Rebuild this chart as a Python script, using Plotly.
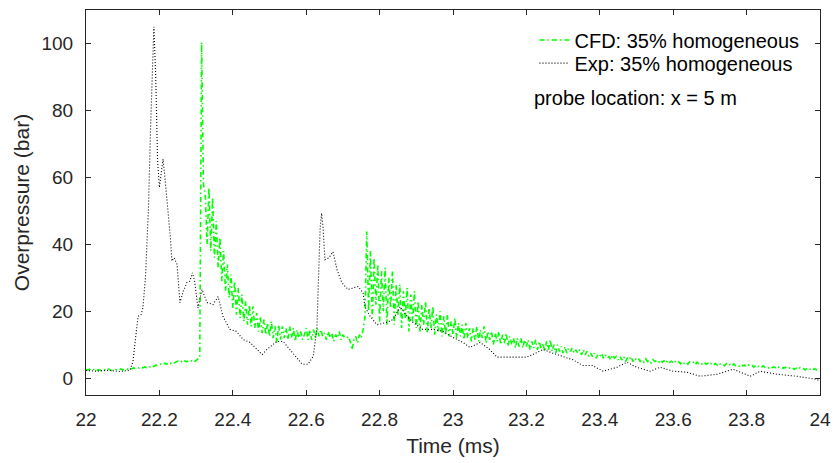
import plotly.graph_objects as go

# ---------------- data ----------------
# CFD: uniformly sampled, start 22.0 ms, step 0.005 ms
cfd_t0 = 22.0
cfd_dt = 0.005
cfd_p = [
    2.6, 2.4, 2.7, 2.3, 2.5, 2.8, 2.4, 2.6, 2.3, 2.7, 2.5, 2.4, 2.8, 2.6, 2.3, 2.5, 2.7, 2.4, 2.6, 2.8, 2.5,
    2.7, 2.9, 2.6, 3.0, 2.8, 3.1, 2.9, 3.2, 3.0, 3.3, 3.1, 3.4, 3.2, 3.6, 3.4, 3.8, 3.5, 3.9, 3.7, 4.1,
    4.3, 4.0, 4.5, 4.2, 4.7, 4.4, 4.9, 4.6, 4.8, 5.1, 4.7, 5.0, 4.6, 5.2, 4.9, 5.3, 5.0, 5.4, 4.9, 5.3, 5.6, 6.2,
    100.4, 58,
    55, 40, 57, 38, 54, 36, 47, 33, 42, 29, 38, 26, 34, 24, 31, 21, 29, 19, 27, 18,
    25, 17, 23, 16, 22, 15.5, 21.5, 15, 19.5, 14, 18.5, 13.5, 17.5, 13, 16.5, 12.5,
    17, 12, 15.5, 10.5, 16, 11.5, 15.5, 12, 15, 11.5, 15.5, 12, 15, 11, 14.5, 12,
    14, 11.5, 13, 15, 11.5, 14.5, 11.5, 14.5, 12, 15, 12.5, 14.5, 12.5, 13.5, 11.5, 14,
    12, 13.5, 11, 13, 12, 14, 11.5, 13, 12, 12, 12.5, 11, 8.5, 11.5, 12.5, 10.5, 13, 12,
    14.5, 18, 43.8, 20, 38, 18, 36, 22, 34, 17, 32, 20, 33, 16, 30, 21, 32, 16, 28, 19,
    28, 15, 26, 18, 27, 14, 25, 17, 26, 15, 23, 14, 22, 16, 23, 13.5, 21, 15, 21.5, 13,
    19, 14, 20, 12.5, 18.5, 13, 19, 12.5, 17, 13,
    18, 12, 16.5, 12.5, 16, 11.5, 16.5, 12, 15, 11, 15, 11.5, 15.5, 11, 14.5, 12, 15.5, 10.5, 14, 11.5,
    14, 10, 13.5, 11, 14, 10, 13, 10.5, 13.5, 9.5, 12.5, 10, 12, 9, 12, 9.5, 12, 9, 11.5, 9.5,
    11.5, 8.5, 11, 9, 11.5, 8.5, 11, 9, 10.5, 8, 11, 8.5, 11.5, 8, 10, 7.5, 10, 8, 9.5, 7.5,
    9.5, 7.5, 9, 8, 9, 7.5, 8.5, 7.5, 8.5, 7, 8.5, 7, 8, 6.5, 7.5, 6.5, 7.5, 6, 7, 6.5,
    7.5, 6, 7, 6, 6.5, 5.5, 7, 6, 6.5, 5.5, 6.5, 5.5, 6.5, 5, 6, 5.5, 6.5, 5, 6, 5.5,
    6, 5, 5.5, 4.8, 5.8, 5, 5.4, 4.6, 5.6, 5, 5.3, 4.7, 5.5, 4.8, 5.2, 4.5, 5.4, 4.8, 5.1, 4.6,
    5.2, 4.5, 4.9, 4.3, 5, 4.4, 4.8, 4.2, 4.9, 4.5, 4.7, 4, 4.8, 4.3, 4.6, 4.1, 4.7, 4.2, 4.5, 4,
    4.6, 4, 4.4, 3.9, 4.5, 4, 4.2, 3.7, 4.4, 3.9, 4.1, 3.6, 4.3, 3.8, 4, 3.6, 4.2, 3.7, 3.9, 3.5,
    4, 3.5, 3.8, 3.3, 3.9, 3.4, 3.6, 3.2, 3.7, 3.3, 3.5, 3.1, 3.6, 3.2, 3.4, 3, 3.5, 3.1, 3.3, 3,
    3.3, 2.9, 3.2, 2.8, 3.1, 2.7, 3, 2.6, 3.1, 2.7, 2.9, 2.5, 3, 2.6, 2.8, 2.4, 2.9, 2.5, 2.7, 2.4,
]
cfd_t = [round(cfd_t0 + cfd_dt * i, 4) for i in range(len(cfd_p))]

exp_t = [
    22.0, 22.03, 22.06, 22.09, 22.12, 22.128, 22.135, 22.142, 22.15, 22.155, 22.162, 22.17, 22.176,
    22.181, 22.185, 22.19, 22.195, 22.2, 22.205, 22.21, 22.215, 22.222, 22.23, 22.234, 22.24, 22.248,
    22.256, 22.265, 22.275, 22.283, 22.29, 22.296, 22.305, 22.316, 22.33, 22.346, 22.36, 22.373,
    22.392, 22.41, 22.428, 22.447, 22.466, 22.48, 22.493, 22.507, 22.52, 22.537, 22.556, 22.575,
    22.589, 22.605, 22.619, 22.629, 22.633, 22.638, 22.642, 22.646, 22.651, 22.662, 22.673, 22.684,
    22.697, 22.714, 22.741, 22.755, 22.76, 22.774, 22.793, 22.82, 22.837, 22.856, 22.875, 22.891,
    22.918, 22.946, 22.973, 23.0, 23.027, 23.046, 23.074, 23.1, 23.12, 23.147, 23.174, 23.2, 23.218,
    23.245, 23.272, 23.3, 23.327, 23.354, 23.38, 23.409, 23.447, 23.474, 23.5, 23.537, 23.564, 23.6,
    23.637, 23.673, 23.72, 23.763, 23.81, 23.837, 23.883, 23.937, 23.99, 24.0,
]
exp_p = [
    2.3, 2.1, 2.4, 2.0, 2.4, 5, 12, 18.5, 19, 21, 30, 50, 75,
    95, 105, 90, 65, 57, 62, 65.5, 60, 52, 42, 35, 36, 34,
    22.6, 26, 28.6, 29, 31.5, 29, 21, 26.5, 22.6, 22, 24.4, 18.5,
    14.6, 14, 11.6, 10.7, 8.6, 7.1, 8.6, 10, 11, 11, 8.6, 6.3,
    4.2, 4.2, 6.5, 14.6, 29.5, 45, 49.3, 45, 35.4, 36, 37.8, 32.4,
    28.6, 26.5, 27.4, 25.6, 21.4, 18.5, 16, 16.7, 17.6, 21.4, 18.5, 16.7,
    14.6, 14.6, 14, 12.2, 10.7, 9.2, 10.7, 8.6, 6.3, 6.3, 6.5, 6.3, 7.1,
    8.6, 7.5, 6.4, 5.5, 3.8, 3.8, 2.1, 3.3, 4.8, 3.3, 2.1, 3.3, 2.1,
    1.8, 0.6, 1.2, 2.7, 0.6, 2.1, 1.2, 0.6, -0.3, -0.8,
]

x_ticks = [22, 22.2, 22.4, 22.6, 22.8, 23, 23.2, 23.4, 23.6, 23.8, 24]
x_tick_text = ["22", "22.2", "22.4", "22.6", "22.8", "23", "23.2", "23.4", "23.6", "23.8", "24"]
y_ticks = [0, 20, 40, 60, 80, 100]

# ---------------- figure ----------------
FONT = "Liberation Sans, Arial, sans-serif"
AX = "#262626"

fig = go.Figure()
fig.add_trace(go.Scatter(
    x=cfd_t, y=cfd_p, mode="lines", name="CFD: 35% homogeneous", legend="legend",
    line=dict(color="#00ff00", width=1.6, dash="5px,3px,1.5px,3px"),
))
fig.add_trace(go.Scatter(
    x=exp_t, y=exp_p, mode="lines", name="Exp: 35% homogeneous", legend="legend2",
    line=dict(color="#000000", width=1.1, dash="1px,2px"),
))

axis_common = dict(
    showgrid=False, zeroline=False, showline=True, linecolor=AX, linewidth=1,
    mirror="ticks", ticks="inside", ticklen=5, tickcolor=AX, tickwidth=1,
    tickfont=dict(family=FONT, size=19, color=AX),
)
fig.update_xaxes(range=[22, 24], tickvals=x_ticks, ticktext=x_tick_text,
                 ticklabelstandoff=7,
                 title=dict(text="Time (ms)", font=dict(family=FONT, size=21, color=AX), standoff=9),
                 **axis_common)
fig.update_yaxes(range=[-5, 110], tickvals=y_ticks,
                 ticklabelstandoff=8,
                 title=dict(text="Overpressure (bar)", font=dict(family=FONT, size=21, color=AX), standoff=6),
                 **axis_common)

fig.add_annotation(
    x=0.607, y=0.771, xref="paper", yref="paper", xanchor="left", yanchor="middle",
    text="probe location: x = 5 m", showarrow=False,
    font=dict(family=FONT, size=20, color="#000000"),
)

leg_common = dict(x=0.611, xanchor="left", yanchor="middle",
                  bgcolor="rgba(0,0,0,0)", borderwidth=0,
                  font=dict(family=FONT, size=20, color="#000000"),
                  itemwidth=30)

fig.update_layout(
    width=835, height=463,
    margin=dict(l=86, r=15, t=10, b=68, autoexpand=False),
    paper_bgcolor="white", plot_bgcolor="white",
    font=dict(family=FONT, size=19, color=AX),
    legend=dict(y=0.922, **leg_common),
    legend2=dict(y=0.862, **leg_common),
    showlegend=True,
)

fig.write_html("out.html", config={"displayModeBar": False},
               post_script="document.body.style.margin='0';")
